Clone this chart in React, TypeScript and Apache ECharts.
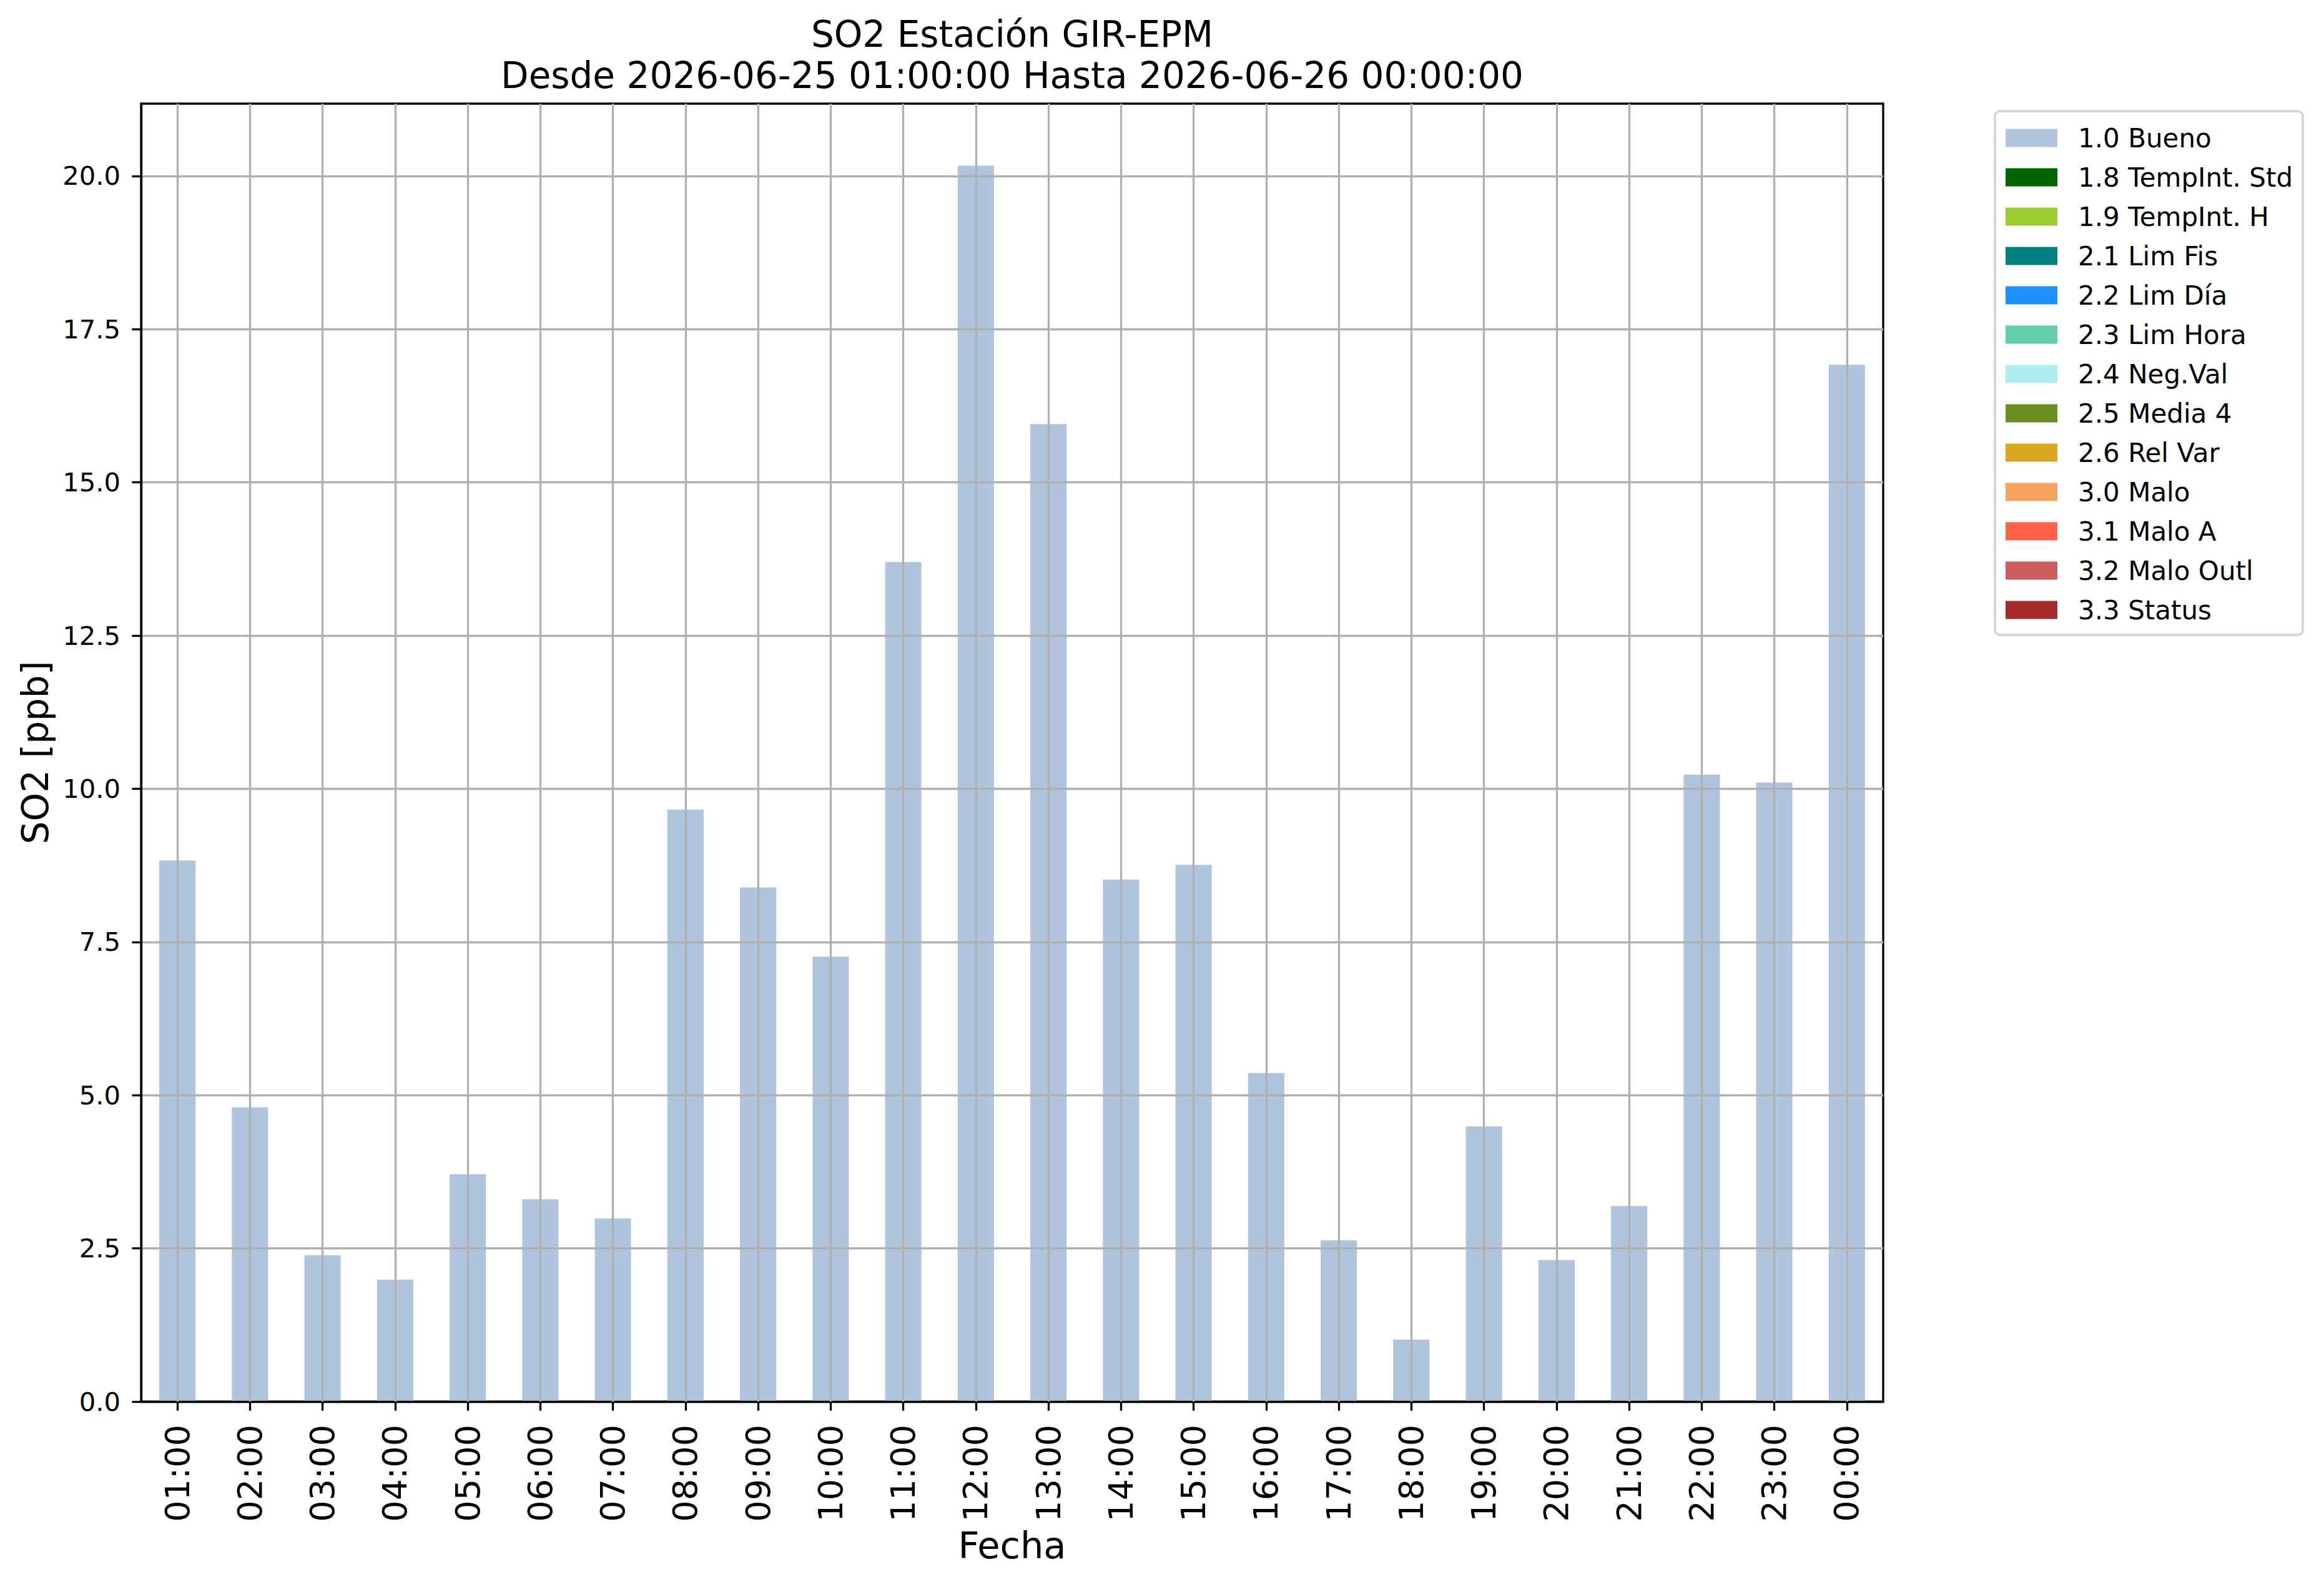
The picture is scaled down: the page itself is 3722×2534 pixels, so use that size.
import React, { useEffect, useRef } from "react";
import * as echarts from "echarts";

const categories = [
  "01:00", "02:00", "03:00", "04:00", "05:00", "06:00", "07:00", "08:00",
  "09:00", "10:00", "11:00", "12:00", "13:00", "14:00", "15:00", "16:00",
  "17:00", "18:00", "19:00", "20:00", "21:00", "22:00", "23:00", "00:00",
];

const so2Values = [
  8.83, 4.8, 2.39, 1.99, 3.71, 3.3, 2.99, 9.66, 8.39, 7.26, 13.7, 20.17,
  15.95, 8.52, 8.76, 5.36, 2.63, 1.01, 4.49, 2.31, 3.19, 10.23, 10.1, 16.92,
];

const flagNames = [
  "1.0 Bueno", "1.8 TempInt. Std", "1.9 TempInt. H", "2.1 Lim Fis", "2.2 Lim Día",
  "2.3 Lim Hora", "2.4 Neg.Val", "2.5 Media 4", "2.6 Rel Var", "3.0 Malo",
  "3.1 Malo A", "3.2 Malo Outl", "3.3 Status",
];

const flagColors = [
  "#B0C4DE", "#006400", "#9ACD32", "#008080", "#1E90FF", "#66CDAA", "#AFEEEE",
  "#6B8E23", "#DAA520", "#F4A460", "#FF6347", "#CD5C5C", "#A52A2A",
];

const yTicks = [0, 2.5, 5, 7.5, 10, 12.5, 15, 17.5, 20];
const yMax = 21.18;

const titleLine1 = "SO2 Estación GIR-EPM";
const titleLine2 = "Desde 2026-06-25 01:00:00 Hasta 2026-06-26 00:00:00";

const FONT = "DejaVu Sans";

export default function App() {
  const ref = useRef<HTMLDivElement>(null);

  useEffect(() => {
    if (!ref.current) return;
    const chart = echarts.init(ref.current, null, { renderer: "svg" });

    const series: any[] = flagNames.map((name, i) => ({
      name,
      type: "bar",
      stack: "flags",
      barWidth: "50%",
      data: i === 0 ? so2Values : [],
      itemStyle: { color: flagColors[i] },
      z: 2,
      ...(i === 0
        ? {
            markLine: {
              silent: true,
              symbol: ["none", "none"],
              label: { show: false },
              lineStyle: { color: "#b0b0b0", width: 3.3, type: "solid" },
              z: 4,
              data: categories.map((c) => ({ xAxis: c })),
            },
          }
        : {}),
    }));

    chart.setOption({
      animation: false,
      backgroundColor: "#ffffff",
      textStyle: { fontFamily: FONT },
      grid: {
        left: 226,
        top: 166,
        width: 2790,
        height: 2079,
        show: true,
        borderColor: "#000",
        borderWidth: 3.3,
        backgroundColor: "transparent",
      },
      graphic: [
        {
          type: "text",
          x: 1621,
          y: 55,
          style: {
            text: titleLine1,
            font: `58px '${FONT}'`,
            fill: "#000",
            textAlign: "center",
            textVerticalAlign: "middle",
          },
        },
        {
          type: "text",
          x: 1621,
          y: 121,
          style: {
            text: titleLine2,
            font: `58px '${FONT}'`,
            fill: "#000",
            textAlign: "center",
            textVerticalAlign: "middle",
          },
        },
      ],
      legend: {
        orient: "vertical",
        left: 3195,
        top: 178,
        data: flagNames,
        icon: "rect",
        itemWidth: 83,
        itemHeight: 29,
        itemGap: 21,
        padding: [22, 16, 19, 17],
        backgroundColor: "#ffffff",
        borderColor: "#d6d6d6",
        borderWidth: 4,
        borderRadius: 8,
        selectedMode: false,
        textStyle: {
          fontFamily: FONT,
          fontSize: 42,
          color: "#000",
          lineHeight: 42,
          padding: [0, 0, 0, 28],
        },
      },
      xAxis: {
        type: "category",
        data: categories,
        boundaryGap: true,
        z: 3,
        axisLine: { show: true, lineStyle: { color: "#000", width: 3.3 } },
        axisTick: {
          show: true,
          alignWithLabel: true,
          length: 14.6,
          interval: 0,
          lineStyle: { color: "#000", width: 3.3 },
        },
        axisLabel: {
          rotate: 90,
          margin: 37,
          interval: 0,
          fontSize: 54,
          color: "#000",
          fontFamily: FONT,
        },
        splitLine: { show: false },
        name: "Fecha",
        nameLocation: "middle",
        nameGap: 198,
        nameTextStyle: { fontSize: 59, color: "#000", fontFamily: FONT },
      },
      yAxis: {
        type: "value",
        min: 0,
        max: yMax,
        interval: 2.5,
        z: 3,
        axisLine: { show: true, lineStyle: { color: "#000", width: 3.3 } },
        axisTick: {
          show: true,
          length: 14.6,
          customValues: yTicks,
          lineStyle: { color: "#000", width: 3.3 },
        },
        axisLabel: {
          customValues: yTicks,
          margin: 33,
          fontSize: 41.7,
          color: "#000",
          fontFamily: FONT,
          formatter: (v: number) =>
            Math.abs(v / 2.5 - Math.round(v / 2.5)) < 1e-6 ? v.toFixed(1) : "",
        },
        splitLine: { show: true, lineStyle: { color: "#b0b0b0", width: 3.3 } },
        name: "SO2 [ppb]",
        nameLocation: "middle",
        nameGap: 140,
        nameRotate: 90,
        nameTextStyle: { fontSize: 58, color: "#000", fontFamily: FONT },
      },
      series,
    });

    return () => chart.dispose();
  }, []);

  return (
    <div
      ref={ref}
      style={{
        position: "absolute",
        left: 0,
        top: 0,
        width: 3722,
        height: 2534,
        background: "#fff",
      }}
    />
  );
}
